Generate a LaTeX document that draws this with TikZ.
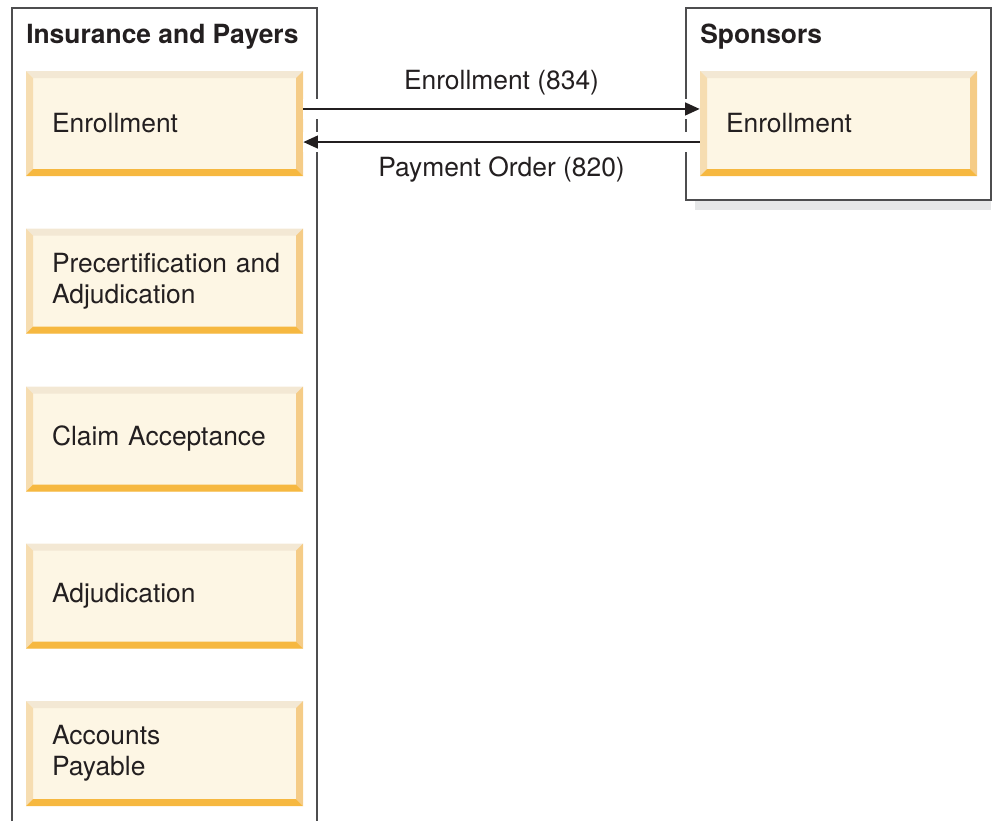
\documentclass[tikz,border=0pt]{standalone}
\usepackage{fontspec}
\setmainfont{TeX Gyre Heros}
\usetikzlibrary{arrows.meta}

\definecolor{boxfill}{HTML}{FDF6E4}
\definecolor{bevtop}{HTML}{F3E8D4}
\definecolor{bevleft}{HTML}{F6DDB1}
\definecolor{bevright}{HTML}{F5CC87}
\definecolor{bevbottom}{HTML}{F6B840}
\definecolor{frame}{HTML}{4D4D4F}
\definecolor{shadow}{HTML}{E6E7E8}
\definecolor{ink}{HTML}{231F20}

\tikzset{
  bevelbox/.style={rectangle, fill=boxfill, minimum height=78.75pt,
    text width=168.75pt, inner xsep=19.5pt, inner ysep=0pt, align=left,
    text=ink, font=\fontsize{19.8}{23.25}\selectfont,
    path picture={
      \coordinate (nw) at (path picture bounding box.north west);
      \coordinate (ne) at (path picture bounding box.north east);
      \coordinate (sw) at (path picture bounding box.south west);
      \coordinate (se) at (path picture bounding box.south east);
      \fill[bevtop] (nw) -- (ne) -- ([shift={(-5.25pt,-5.25pt)}]ne) -- ([shift={(5.25pt,-5.25pt)}]nw) -- cycle;
      \fill[bevleft] (nw) -- (sw) -- ([shift={(5.25pt,5.25pt)}]sw) -- ([shift={(5.25pt,-5.25pt)}]nw) -- cycle;
      \fill[bevright] (ne) -- (se) -- ([shift={(-5.25pt,5.25pt)}]se) -- ([shift={(-5.25pt,-5.25pt)}]ne) -- cycle;
      \fill[bevbottom] (sw) -- (se) -- ([shift={(-5.25pt,5.25pt)}]se) -- ([shift={(5.25pt,5.25pt)}]sw) -- cycle;
    }},
  container/.style={draw=frame, line width=1.3pt},
  title/.style={anchor=base west, inner sep=0pt, text=ink,
    font=\fontsize{19.8}{23.25}\selectfont\bfseries},
  halo/.style={draw=white, line width=14.5pt},
  flow/.style={draw=ink, line width=1.8pt, -{Triangle[length=11pt,width=9.5pt]}},
  flowlabel/.style={midway, anchor=base, inner sep=0pt, text=ink,
    font=\fontsize{19.8}{23.25}\selectfont}
}

\begin{document}
\begin{tikzpicture}[x=0.75pt,y=-0.75pt]
\useasboundingbox (0,0) rectangle (992,821);

% containers
\fill[shadow] (695,200) rectangle (991,210);
\draw[container] (12,821) -- (12,8) -- (317,8) -- (317,821);
\draw[container] (686,8) rectangle (991,200);

\node(ins) at (26,43)[title]{Insurance and Payers};
\node(spo) at (700,43)[title]{Sponsors};

% insurance and payers
\node(ienr) at (164.5,123.5)[bevelbox]{Enrollment};
\node(prec) at (164.5,281)[bevelbox]{Precertification~and\\Adjudication};
\node(clm) at (164.5,439)[bevelbox]{Claim Acceptance};
\node(adj) at (164.5,596)[bevelbox]{Adjudication};
\node(acc) at (164.5,753.5)[bevelbox]{Accounts\\Payable};

% sponsors
\node(senr) at (838.5,123.5)[bevelbox]{Enrollment};

% transactions
\draw[halo] ([yshift=10.9pt]ienr.east) -- ([yshift=10.9pt]senr.west);
\draw[halo] ([yshift=-13.9pt]senr.west) -- ([yshift=-13.9pt]ienr.east);

\draw[flow] ([yshift=10.9pt]ienr.east) -- node[flowlabel, yshift=14.25pt] {Enrollment (834)} ([yshift=10.9pt]senr.west);
\draw[flow] ([yshift=-13.9pt]senr.west) -- node[flowlabel, yshift=-25.5pt] {Payment Order (820)} ([yshift=-13.9pt]ienr.east);

\end{tikzpicture}
\end{document}
